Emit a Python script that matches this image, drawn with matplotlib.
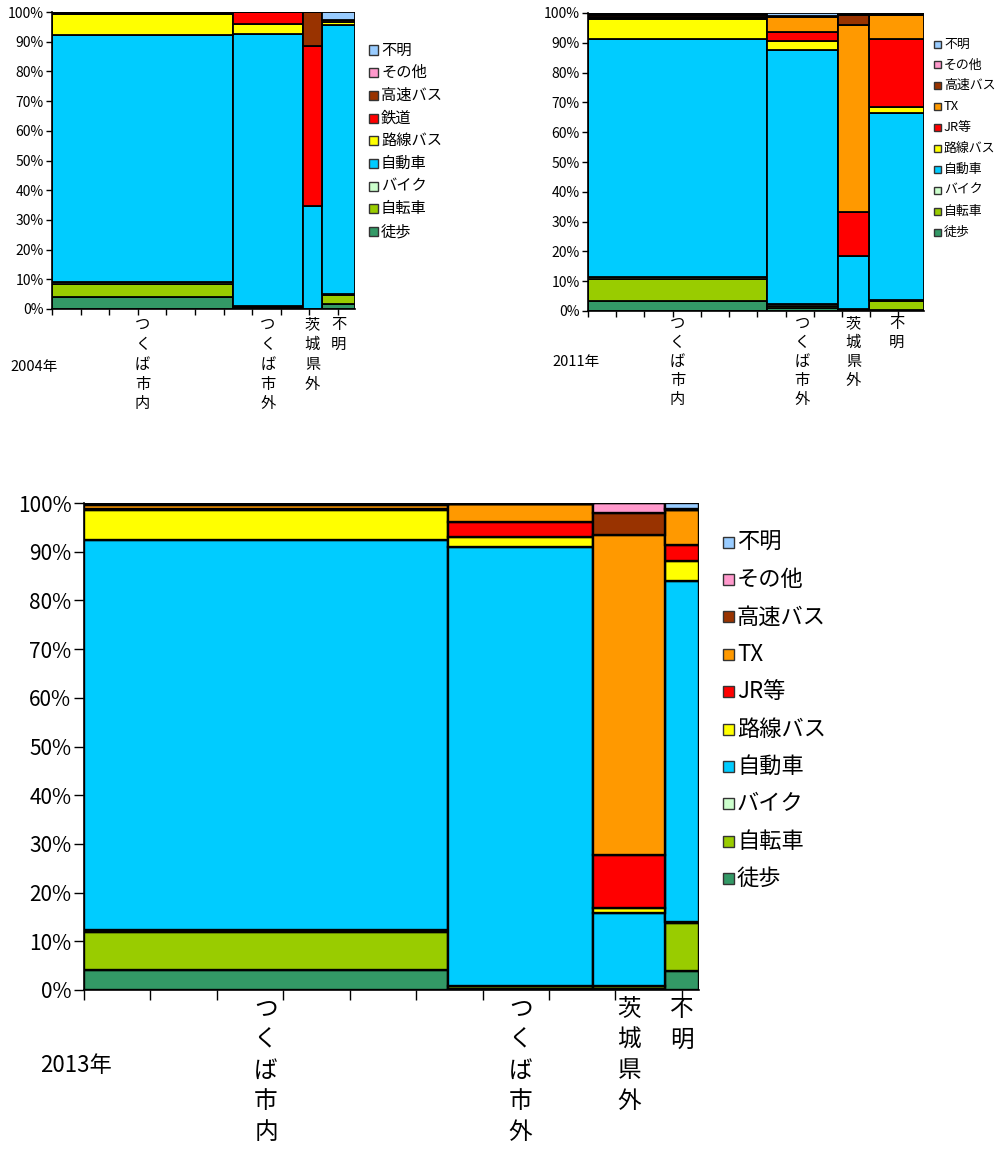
import matplotlib
matplotlib.use('Agg')
import matplotlib.pyplot as plt
from matplotlib.patches import Rectangle
import numpy as np

plt.rcParams['font.family'] = ['Noto Sans CJK JP', 'DejaVu Sans']

W, H = 1001, 1153

areas = ['つくば市内', 'つくば市外', '茨城県外', '不明']

# 2004
modes_2004 = ['徒歩', '自転車', 'バイク', '自動車', '路線バス', '鉄道', '高速バス', 'その他', '不明']
share_2004 = [59.7, 23.1, 6.3, 10.9]
pct_2004 = [
    [4.0, 0.3, 0.0, 1.8],     # 徒歩
    [4.5, 0.5, 0.0, 2.8],     # 自転車
    [0.6, 0.3, 0.0, 0.3],     # バイク
    [83.2, 91.6, 34.7, 90.8], # 自動車
    [7.1, 3.2, 0.0, 0.8],     # 路線バス
    [0.3, 4.1, 53.9, 0.9],    # 鉄道
    [0.1, 0.0, 11.4, 0.0],    # 高速バス
    [0.1, 0.0, 0.0, 0.0],     # その他
    [0.1, 0.0, 0.0, 2.6],     # 不明
]

# 2011
modes_2011 = ['徒歩', '自転車', 'バイク', '自動車', '路線バス', 'JR等', 'TX', '高速バス', 'その他', '不明']
share_2011 = [53.2, 21.1, 9.4, 16.3]
pct_2011 = [
    [3.5, 0.9, 0.3, 0.5],
    [7.4, 0.8, 0.3, 2.9],
    [0.6, 0.5, 0.0, 0.2],
    [79.9, 85.5, 17.7, 63.0],
    [6.7, 2.8, 0.0, 2.0],
    [0.3, 3.0, 15.0, 22.7],
    [0.3, 5.2, 62.8, 8.1],
    [0.5, 0.3, 3.3, 0.1],
    [0.3, 0.0, 0.3, 0.2],
    [0.5, 1.0, 0.3, 0.3],
]

# 2013
modes_2013 = ['徒歩', '自転車', 'バイク', '自動車', '路線バス', 'JR等', 'TX', '高速バス', 'その他', '不明']
share_2013 = [59.2, 23.6, 11.7, 5.5]
pct_2013 = [
    [4.1, 0.3, 0.3, 3.9],
    [7.9, 0.6, 0.5, 9.8],
    [0.4, 0.0, 0.0, 0.3],
    [80.1, 90.1, 15.1, 70.0],
    [6.1, 2.1, 0.9, 4.0],
    [0.2, 3.1, 10.9, 3.3],
    [0.7, 3.5, 65.7, 7.3],
    [0.2, 0.0, 4.6, 0.0],
    [0.1, 0.1, 2.0, 0.2],
    [0.2, 0.2, 0.0, 1.2],
]

colors = {'徒歩': '#339966', '自転車': '#99CC00', 'バイク': '#CCFFCC', '自動車': '#00CCFF',
          '路線バス': '#FFFF00', '鉄道': '#FF0000', 'JR等': '#FF0000', 'TX': '#FF9900',
          '高速バス': '#993300', 'その他': '#FF99CC', '不明': '#99CCFF'}

fig = plt.figure(figsize=(W / 100, H / 100), dpi=100)


def fx(px):
    return px / W


def fy(py):
    return 1 - py / H


def mosaic(box, modes, share, pct, tick_step, fs, lw, lab_fs, lab_top, lab_ls,
           leg_x, leg_y0, leg_dy, leg_sq, leg_fs, year, year_xy, year_fs, ticklen):
    l, t, r, b = box
    ax = fig.add_axes([fx(l), fy(b), fx(r) - fx(l), (b - t) / H])
    share = np.array(share)
    left = np.cumsum(share) - share
    bottom = np.zeros(len(share))
    for m, vals in zip(modes, pct):
        vals = np.array(vals)
        ax.bar(left, vals, width=share, bottom=bottom, align='edge',
               color=colors[m], edgecolor='black', linewidth=lw)
        bottom += vals
    ax.set_xlim(0, 100)
    ax.set_ylim(0, 100)
    ax.set_yticks(np.arange(0, 101, 10))
    ax.set_yticklabels(['%d%%' % v for v in range(0, 101, 10)], fontsize=fs)
    ax.set_xticks(np.arange(0, 100.01, tick_step))
    ax.set_xticklabels([])
    ax.tick_params(length=ticklen, width=1, color='black', pad=2)
    for s in ['top', 'right']:
        ax.spines[s].set_visible(False)
    for s in ['left', 'bottom']:
        ax.spines[s].set_linewidth(1.2)
    # vertical category labels under each column
    mids = left + share / 2
    for name, mx in zip(areas, mids):
        x_disp = ax.transData.transform((mx, 0))[0]
        fig.text(x_disp / W, fy(lab_top), '\n'.join(name), fontsize=lab_fs,
                 ha='center', va='top', linespacing=lab_ls)
    # legend, drawn by hand
    for i, m in enumerate(reversed(modes)):
        yc = leg_y0 + i * leg_dy
        fig.add_artist(Rectangle((fx(leg_x), fy(yc + leg_sq / 2)), leg_sq / W, leg_sq / H,
                                 transform=fig.transFigure, facecolor=colors[m],
                                 edgecolor='#333333', linewidth=1))
        fig.text(fx(leg_x + leg_sq + 3), fy(yc), m, fontsize=leg_fs, ha='left', va='center')
    fig.text(fx(year_xy[0]), fy(year_xy[1]), year, fontsize=year_fs, ha='left', va='center')
    return ax


mosaic((52, 12, 355, 309), modes_2004, share_2004, pct_2004, 9.44, 10, 1.3,
       11, 316, 1.22, 369, 50, 22.7, 9, 11, '2004年', (10, 367), 10.5, 4)

mosaic((588, 13, 924, 311), modes_2011, share_2011, pct_2011, 8.4, 10, 1.3,
       11, 315, 1.15, 934, 44, 20.9, 7, 9.3, '2011年', (552, 362), 10.5, 4)

mosaic((84, 503, 699, 990), modes_2013, share_2013, pct_2013, 10.8, 15, 1.7,
       17, 998, 1.43, 723, 542, 37.4, 11, 16, '2013年', (40, 1065), 16, 7)

fig.savefig('out.png', dpi=100)
